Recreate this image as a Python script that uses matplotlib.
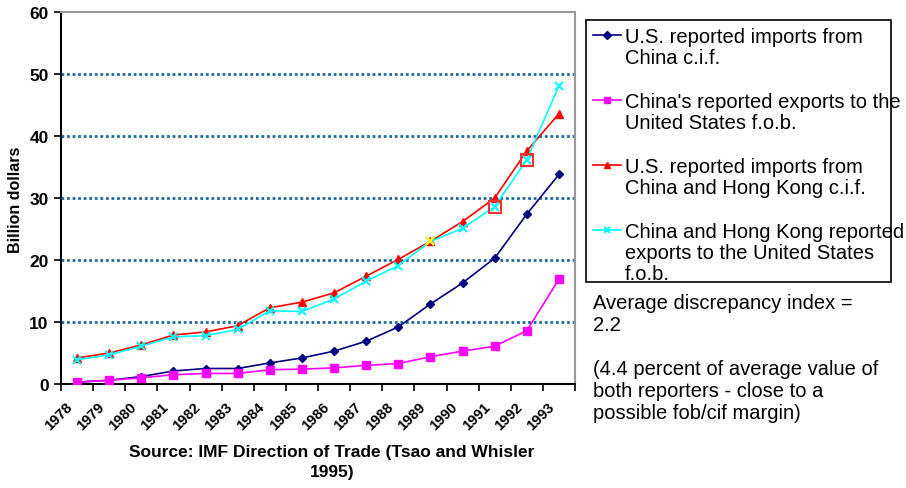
import numpy as np
from matplotlib import pyplot as plt
from matplotlib.lines import Line2D
from matplotlib.patches import Rectangle
from matplotlib.transforms import ScaledTranslation

plt.rcParams['font.family'] = ['Liberation Sans', 'DejaVu Sans']

years = [str(y) for y in range(1978, 1994)]
us_imp_china = [0.3, 0.6, 1.2, 2.1, 2.5, 2.5, 3.4, 4.2, 5.3, 6.9, 9.2, 12.9, 16.3, 20.3, 27.4, 33.8]
china_exp_us = [0.3, 0.6, 1.0, 1.5, 1.7, 1.7, 2.3, 2.4, 2.6, 3.0, 3.3, 4.4, 5.3, 6.1, 8.6, 16.9]
us_imp_chk = [4.2, 5.0, 6.3, 7.9, 8.4, 9.4, 12.3, 13.2, 14.7, 17.4, 20.1, 23.0, 26.2, 30.0, 37.6, 43.6]
chk_exp_us = [3.9, 4.7, 6.1, 7.6, 7.8, 8.8, 11.8, 11.7, 13.7, 16.6, 19.1, 23.0, 25.1, 28.6, 36.2, 48.1]
labels = ["U.S. reported imports from\nChina c.i.f.",
          "China's reported exports to the\nUnited States f.o.b.",
          "U.S. reported imports from\nChina and Hong Kong c.i.f.",
          "China and Hong Kong reported\nexports to the United States\nf.o.b."]
yticks = [0, 10, 20, 30, 40, 50, 60]

W, H = 906, 489
fig = plt.figure(figsize=(W/100, H/100), dpi=100)
ax = fig.add_axes([61/W, 1-385/H, 514/W, 372/H])

styles = [dict(color="#000080", marker="D", markersize=4.5),
          dict(color="#ff00ff", marker="s", markersize=6),
          dict(color="#ff0000", marker="^", markersize=6),
          dict(color="#00ffff", marker="x", markersize=6, mew=1.5)]

x = np.arange(len(years))
for vals, st in zip([us_imp_china, china_exp_us, us_imp_chk, chk_exp_us], styles):
    ax.plot(x, vals, lw=1.2, zorder=4, **st)
# odd markers in the original
ax.plot(x[11], chk_exp_us[11], marker="x", color="#ffff00", markersize=6, mew=1.5, zorder=6)
for i in (13, 14):
    ax.plot(x[i], chk_exp_us[i], marker="s", mfc="none", mec="#ff3030", markersize=8, mew=1.5, zorder=6)

ax.set_xlim(-0.5, len(years) - 0.5)
ax.set_ylim(0, 60)
ax.set_yticks(yticks)
ax.set_yticklabels([str(v) for v in yticks], fontsize=12.5, fontweight="bold")
ax.set_xticks(x)
ax.set_xticklabels(years, fontsize=10.5, fontweight="bold", rotation=45, ha="right",
                   rotation_mode="anchor")
ax.tick_params(axis="x", length=0, pad=11)
off = ScaledTranslation(-0.12, 0, fig.dpi_scale_trans)
for lab in ax.get_xticklabels():
    lab.set_transform(lab.get_transform() + off)
ax.set_xticks(np.arange(-0.5, len(years)), minor=True)
ax.tick_params(axis="x", which="minor", length=5, width=1.2, direction="out")
ax.tick_params(axis="y", length=5, width=1.2, direction="out", pad=4)
for v in yticks[1:-1]:
    ax.axhline(v, color="#1a6aa3", lw=2, linestyle=(0, (1, 1)), zorder=1)

for s in ("left", "bottom"):
    ax.spines[s].set_color("black")
    ax.spines[s].set_linewidth(1.5)
for s in ("top", "right"):
    ax.spines[s].set_color("#999999")
    ax.spines[s].set_linewidth(1.5)

fig.text(16/W, 1-200/H, "Billion dollars", rotation=90, fontsize=11.5, fontweight="bold",
         ha="center", va="center")
fig.text(332/W, 1-445/H, "Source: IMF Direction of Trade (Tsao and Whisler\n1995)",
         fontsize=12.5, fontweight="bold", ha="center", va="top", linespacing=1.45)

# legend box drawn by hand so the text can run past the frame like the original
fig.patches.append(Rectangle((586/W, 1-283/H), 305/W, 262/H, transform=fig.transFigure,
                             fill=False, edgecolor="black", lw=1.2))
entry_y = [36, 101, 166, 231]
for lab, st, yc in zip(labels, styles, entry_y):
    hs = dict(st)
    hs["markersize"] = hs["markersize"] * 0.8
    fig.add_artist(Line2D([593/W, 621/W], [1-yc/H, 1-yc/H], transform=fig.transFigure,
                          lw=1.2, **{k: v for k, v in hs.items() if k != "marker"}))
    fig.add_artist(Line2D([607/W], [1-yc/H], transform=fig.transFigure, linestyle="none", **hs))
    fig.text(625/W, 1-(yc-8)/H, lab, fontsize=14.5, ha="left", va="top", linespacing=1.15)

fig.text(593/W, 1-294/H,
         "Average discrepancy index =\n2.2\n\n(4.4 percent of average value of\nboth reporters - close to a\npossible fob/cif margin)",
         fontsize=14.5, ha="left", va="top", linespacing=1.2)

fig.savefig("out.png", dpi=100)
